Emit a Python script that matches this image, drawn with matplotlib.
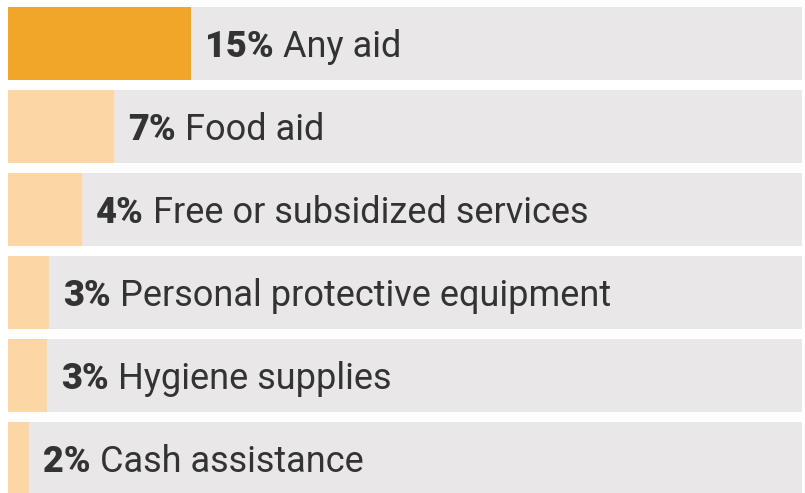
import matplotlib
matplotlib.use("Agg")
import matplotlib.pyplot as plt

# Data
categories = ["Any aid", "Food aid", "Free or subsidized services",
              "Personal protective equipment", "Hygiene supplies", "Cash assistance"]
pct_labels = ["15%", "7%", "4%", "3%", "3%", "2%"]
# bar lengths as drawn (same scale as the 15% bar)
bar_lengths = [15.0, 8.7, 6.07, 3.36, 3.2, 1.72]
track_max = 65.1

highlight_color = "#F2A629"
light_color = "#FCD6A4"
track_color = "#E9E7E8"
text_color = "#333333"
font = "Roboto"

W, H = 805, 493
fig = plt.figure(figsize=(W / 100, H / 100), dpi=100)
ax = fig.add_axes([8 / W, 0, 794 / W, 1])
ax.set_xlim(0, track_max)
pitch = 83.0
c0 = 43.5
ax.set_ylim((H - c0) / pitch, -c0 / pitch)
ax.axis("off")

ys = list(range(len(categories)))
bh = 73.5 / pitch
ax.barh(ys, [track_max] * len(ys), height=bh, color=track_color, linewidth=0)
colors = [highlight_color] + [light_color] * (len(ys) - 1)
ax.barh(ys, bar_lengths, height=bh, color=colors, linewidth=0)

base_off = 13.5 / pitch
for y, v, p, c in zip(ys, bar_lengths, pct_labels, categories):
    tb = ax.annotate(p, xy=(v, y + base_off), xycoords="data", xytext=(14, 0),
                     textcoords="offset pixels", va="baseline", ha="left",
                     fontsize=26, fontweight="heavy", color=text_color, family=font)
    ax.annotate(c, xy=(1, y + base_off), xycoords=(tb, "data"), xytext=(9, 0),
                textcoords="offset pixels", va="baseline", ha="left",
                fontsize=26, color=text_color, family=font)

fig.savefig("out.png", dpi=100)
